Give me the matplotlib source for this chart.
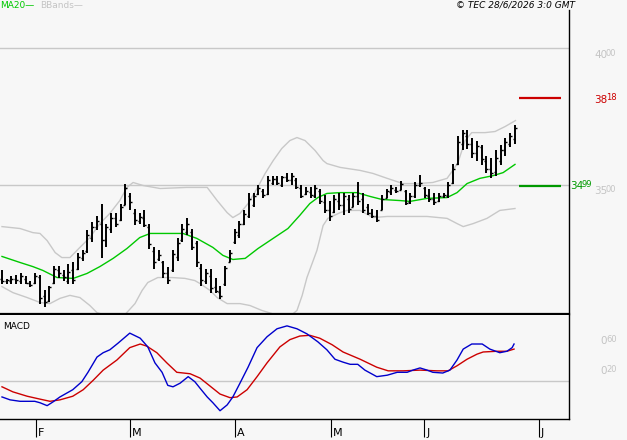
import matplotlib
matplotlib.use('Agg')
import matplotlib.pyplot as plt
import matplotlib.transforms as mtransforms

# daily bars (index 0 = first bar on the chart)
opens = [31.6, 31.5, 31.5, 31.6, 31.5, 31.6, 31.45, 31.45, 31.65, 30.95,
         30.8, 31.45, 31.9, 31.75, 31.5, 31.9, 31.95, 32.35, 32.6, 33.1,
         33.5, 33.6, 33.0, 33.4, 33.8, 33.75, 34.3, 34.6, 34.0, 33.7,
         33.8, 33.5, 32.6, 32.3, 32.2, 31.8, 31.9, 32.4, 33.0, 33.3,
         33.3, 32.9, 32.0, 31.5, 31.7, 31.3, 31.1, 31.4, 32.2, 32.95,
         33.2, 33.6, 33.9, 34.3, 34.7, 34.8, 34.7, 35.1, 35.25, 35.0,
         35.3, 35.2, 35.2, 34.9, 34.7, 34.75, 34.6, 34.8, 34.4, 34.1,
         34.05, 34.45, 34.3, 34.5, 34.2, 34.6, 34.5, 34.2, 34.0, 33.9,
         34.1, 34.55, 34.75, 34.85, 34.85, 34.8, 34.4, 34.6, 35.0, 34.9,
         34.6, 34.5, 34.45, 34.6, 34.6, 35.1, 35.8, 36.5, 36.8, 36.5,
         36.2, 36.4, 35.9, 35.6, 35.5, 35.9, 36.3, 36.5, 36.7]
highs = [31.93, 31.6, 31.68, 31.72, 31.79, 31.68, 31.53, 31.79, 31.72, 31.17,
         31.35, 32.05, 32.05, 31.9, 32.15, 32.19, 32.52, 32.63, 33.36, 33.65,
         33.87, 34.34, 33.61, 34.01, 33.98, 34.34, 35.04, 34.71, 34.16, 33.98,
         34.12, 33.61, 32.74, 32.63, 32.26, 32.01, 32.63, 33.07, 33.61, 33.8,
         33.43, 32.99, 32.15, 31.97, 31.97, 31.61, 31.35, 32.08, 32.63, 33.43,
         33.72, 34.09, 34.71, 34.74, 35.0, 34.89, 35.36, 35.36, 35.36, 35.36,
         35.47, 35.44, 35.29, 35.0, 34.93, 34.93, 35.0, 34.89, 34.64, 34.45,
         34.64, 34.74, 34.74, 34.64, 34.74, 35.11, 34.71, 34.34, 34.16, 34.12,
         34.64, 34.89, 35.0, 34.93, 35.18, 34.82, 34.74, 35.11, 35.4, 34.93,
         34.89, 34.71, 34.74, 34.74, 35.11, 35.8, 36.82, 37.04, 37.01, 36.72,
         36.64, 36.46, 36.09, 35.99, 36.28, 36.46, 36.72, 36.9, 37.19]
lows = [31.39, 31.42, 31.42, 31.42, 31.39, 31.39, 31.31, 31.42, 30.69, 30.55,
        30.73, 31.42, 31.64, 31.53, 31.42, 31.42, 31.9, 32.26, 32.55, 32.92,
        33.36, 32.37, 32.74, 33.28, 33.47, 33.72, 34.27, 34.09, 33.54, 33.61,
        33.47, 32.7, 31.97, 32.26, 31.64, 31.42, 31.83, 32.26, 32.92, 33.18,
        32.63, 32.04, 31.35, 31.42, 31.06, 31.06, 30.84, 31.35, 32.19, 32.88,
        33.1, 33.54, 33.83, 34.2, 34.64, 34.53, 34.64, 35.0, 35.0, 34.93,
        35.11, 35.0, 34.89, 34.53, 34.64, 34.56, 34.53, 34.34, 33.98, 33.72,
        34.01, 34.09, 33.91, 33.98, 34.2, 34.27, 33.98, 33.91, 33.8, 33.65,
        34.09, 34.53, 34.64, 34.71, 34.82, 34.27, 34.34, 34.56, 34.93, 34.56,
        34.38, 34.27, 34.38, 34.56, 34.56, 35.07, 35.73, 36.28, 36.35, 35.99,
        35.91, 35.73, 35.47, 35.26, 35.36, 35.73, 36.09, 36.42, 36.53]
closes = [31.5, 31.55, 31.6, 31.55, 31.7, 31.45, 31.38, 31.7, 30.9, 30.75,
          31.3, 31.95, 31.8, 31.65, 31.85, 31.55, 32.4, 32.55, 33.2, 33.5,
          33.7, 33.0, 33.5, 33.8, 33.6, 34.2, 34.9, 34.4, 33.75, 33.85,
          33.55, 32.85, 32.2, 32.45, 31.8, 31.55, 32.5, 32.9, 33.4, 33.6,
          32.75, 32.2, 31.55, 31.8, 31.25, 31.15, 30.95, 32.0, 32.55, 33.3,
          33.6, 33.95, 34.5, 34.6, 34.9, 34.65, 35.2, 35.25, 35.1, 35.3,
          35.2, 35.35, 34.95, 34.6, 34.8, 34.65, 34.9, 34.45, 34.1, 33.9,
          34.5, 34.3, 34.6, 34.15, 34.6, 34.45, 34.1, 34.0, 33.9, 33.75,
          34.5, 34.8, 34.9, 34.8, 35.05, 34.35, 34.6, 35.0, 35.1, 34.65,
          34.5, 34.4, 34.6, 34.65, 35.0, 35.6, 36.6, 36.9, 36.5, 36.2,
          36.45, 35.95, 35.6, 35.45, 36.0, 36.3, 36.6, 36.8, 37.1]

# MA20 and Bollinger bands (bar position, price)
ma_x = [0, 3.8, 6.5, 8.6, 11.6, 15, 17.9, 20.6, 23.4, 26.3, 29, 31.2, 33.3,
        38.1, 41, 44.4, 46.5, 48.6, 51.2, 53.9, 56.4, 60.2, 62.7, 64.8, 66.5,
        68.4, 71.2, 74.7, 77.5, 80, 83.8, 85.9, 89.5, 93.7, 95.8, 97.9, 100.6,
        103.4, 105.5, 108]
ma_y = [32.41, 32.19, 32.04, 31.9, 31.64, 31.61, 31.79, 32.04, 32.34, 32.7,
        33.1, 33.25, 33.25, 33.25, 33.07, 32.74, 32.45, 32.3, 32.34, 32.7,
        32.99, 33.43, 33.91, 34.34, 34.56, 34.71, 34.74, 34.74, 34.6, 34.49,
        34.45, 34.42, 34.53, 34.56, 34.74, 35.07, 35.26, 35.36, 35.47, 35.77]

bb_up_x = [0, 3.8, 6.5, 8, 9.5, 11.2, 12.6, 14.3, 16.4, 18.5, 20.6, 22.7,
           24.8, 26.3, 27.6, 29.7, 33.3, 38.9, 43.2, 45.3, 47.4, 48.6, 50.1,
           51.8, 53.7, 55.4, 57.1, 58.9, 60.6, 62.1, 63.8, 65.9, 67.6, 68.4,
           71.2, 75.4, 78.1, 81.1, 84.4, 87.4, 90.7, 93.7, 94.9, 96, 97.5,
           98.9, 101.7, 103.8, 105.9, 108.1]
bb_up_y = [33.5, 33.43, 33.28, 33.25, 32.99, 32.55, 32.37, 32.37, 32.74, 33.1,
           33.61, 33.98, 34.45, 34.93, 35.11, 35.0, 34.89, 34.93, 34.93, 34.45,
           34.01, 33.83, 33.98, 34.34, 34.89, 35.44, 35.91, 36.35, 36.64, 36.75,
           36.64, 36.28, 35.91, 35.8, 35.66, 35.55, 35.44, 35.26, 35.07, 35.07,
           35.11, 35.26, 35.55, 35.84, 36.64, 36.93, 36.93, 36.97, 37.15, 37.37]
bb_lo_x = [0, 2.3, 5.3, 8, 10.1, 12.2, 14.3, 16.4, 18.5, 20, 22.7, 25.9, 28,
           29.5, 30.7, 32.8, 35.8, 38.5, 40.6, 41.7, 43.8, 45.3, 47.4, 50.1,
           52.2, 54.7, 57.5, 60.6, 62.1, 63.2, 64.2, 66.3, 67.6, 68.6, 71.2,
           72.6, 75.4, 78.1, 81.1, 84.4, 89.5, 93.7, 95.8, 97.1, 99.2, 102.1,
           104.8, 108]
bb_lo_y = [31.31, 31.09, 30.91, 30.73, 30.69, 30.88, 30.99, 30.91, 30.62, 30.36,
           30.22, 30.29, 30.69, 31.17, 31.46, 31.64, 31.64, 31.61, 31.53, 31.42,
           31.17, 30.91, 30.69, 30.69, 30.62, 30.44, 30.29, 30.22, 30.44, 30.99,
           31.64, 32.63, 33.54, 33.8, 34.01, 34.09, 34.09, 33.83, 33.87, 33.87,
           33.87, 33.8, 33.61, 33.5, 33.61, 33.8, 34.09, 34.16]

# MACD (blue) and signal (red)
macd_x = [0, 1.7, 3.8, 6.9, 8, 9.5, 10.7, 12.2, 14.9, 16.8, 18.1, 20, 21.3,
          22.7, 24.4, 26.9, 29.1, 30.7, 32.2, 33.7, 34.9, 36, 37.5, 39.2, 40.6,
          41.7, 43.2, 44.4, 45.9, 47.4, 48.6, 50.1, 51.8, 53.7, 55.8, 57.9, 60,
          62.1, 64.2, 66.5, 68.4, 70.1, 71.8, 73.3, 74.9, 76.4, 78.9, 81.1,
          83.2, 85.3, 86.5, 88, 89.5, 90.7, 92.8, 94.3, 95.8, 97.1, 98.9,
          101.1, 102.7, 104.8, 106.3, 107.4, 107.8]
macd_y = [-0.22, -0.26, -0.28, -0.28, -0.3, -0.34, -0.29, -0.22, -0.12, -0.01,
          0.12, 0.33, 0.39, 0.43, 0.52, 0.66, 0.59, 0.47, 0.25, 0.12, -0.06,
          -0.08, -0.03, 0.06, -0.01, -0.1, -0.22, -0.3, -0.41, -0.33, -0.22,
          -0.03, 0.19, 0.46, 0.61, 0.72, 0.76, 0.72, 0.65, 0.54, 0.43, 0.3,
          0.26, 0.23, 0.23, 0.15, 0.06, 0.08, 0.12, 0.12, 0.15, 0.18, 0.15,
          0.12, 0.11, 0.15, 0.29, 0.44, 0.51, 0.51, 0.44, 0.39, 0.41, 0.46, 0.51]
sig_x = [0, 2.3, 5.3, 8, 10.1, 12.2, 14.9, 17.1, 19.2, 21.3, 24.2, 26.9, 29.1,
         30.5, 32.6, 34.7, 36.8, 39.6, 41.7, 43.8, 45.9, 48, 49.5, 51.6, 53.7,
         55.8, 58.5, 60.6, 62.7, 64.8, 66.9, 69.5, 71.8, 75.4, 78.9, 81.3,
         84.4, 88, 91.6, 93.9, 95.8, 97.9, 100, 101.3, 104.2, 106.3, 107.8]
sig_y = [-0.08, -0.15, -0.21, -0.25, -0.28, -0.26, -0.21, -0.12, 0.01, 0.15,
         0.29, 0.46, 0.51, 0.48, 0.39, 0.25, 0.12, 0.1, 0.04, -0.07, -0.18,
         -0.23, -0.22, -0.12, 0.06, 0.25, 0.47, 0.57, 0.62, 0.63, 0.59, 0.5,
         0.4, 0.3, 0.19, 0.14, 0.14, 0.15, 0.14, 0.14, 0.21, 0.3, 0.37, 0.4,
         0.41, 0.41, 0.44]

month_pos = [7.2, 26.9, 49.1, 69.2, 88.9, 113.0]
month_lbl = ['F', 'M', 'A', 'M', 'J', 'J']

resistance = 38.18
support = 34.99

bg = '#f7f7f7'
W, H = 627, 440

fig = plt.figure(figsize=(W / 100, H / 100), dpi=100, facecolor=bg)
ax = fig.add_axes([0, 126 / H, 569 / W, 304 / H], facecolor=bg)
ax2 = fig.add_axes([0, 21 / H, 569 / W, 104 / H], facecolor=bg)

idx = list(range(len(closes)))

# price panel
ax.axhline(40, color='#c8c8c8', lw=1)
ax.axhline(35, color='#c8c8c8', lw=1)
ax.plot(bb_up_x, bb_up_y, color='#c8c8c8', lw=1)
ax.plot(bb_lo_x, bb_lo_y, color='#c8c8c8', lw=1)
ax.plot(ma_x, ma_y, color='#00c800', lw=1)
ax.vlines(idx, lows, highs, color='black', lw=1.4)
ax.hlines(opens, [i - 0.42 for i in idx], idx, color='black', lw=1)
ax.hlines(closes, idx, [i + 0.42 for i in idx], color='black', lw=1)
ax.hlines(resistance, 108.8, 117.7, color='#cc0000', lw=1.6)
ax.hlines(support, 108.8, 117.7, color='#009900', lw=1.6)

ax.set_xlim(-0.42, 119.37)
ax.set_ylim(30.31, 41.405)
ax.set_xticks([])
ax.set_yticks([])
for s in ['top', 'left']:
    ax.spines[s].set_visible(False)
ax.spines['right'].set_linewidth(1)
ax.spines['bottom'].set_linewidth(1.6)

# MACD panel
ax2.axhline(0, color='#c8c8c8', lw=1)
ax2.plot(sig_x, sig_y, color='#cc0000', lw=1)
ax2.plot(macd_x, macd_y, color='#0000cc', lw=1)
ax2.set_xlim(-0.42, 119.37)
ax2.set_ylim(-0.524, 0.91)
ax2.set_yticks([])
ax2.set_xticks(month_pos)
ax2.tick_params(axis='x', direction='out', length=13, width=0.8,
                color='black', labelbottom=False)
for s in ['top', 'left']:
    ax2.spines[s].set_visible(False)
ax2.spines['right'].set_linewidth(1)
ax2.spines['bottom'].set_linewidth(1)

trans = mtransforms.blended_transform_factory(ax2.transData, ax2.transAxes)
for p, l in zip(month_pos, month_lbl):
    ax2.text(p + 0.45, -0.165, l, transform=trans, fontsize=8,
             ha='left', va='baseline', color='black')
ax2.text(3 / 569, 0.885, 'MACD', transform=ax2.transAxes, fontsize=6.5,
         ha='left', va='center', color='black')


def px_text(x, y, s, **kw):
    fig.text(x / W, 1 - y / H, s, **kw)


# right side labels (integer part + raised decimals)
gray = '#c4c4c4'
px_text(594, 55, '40', fontsize=7.5, color=gray, va='center')
px_text(606, 53, '00', fontsize=6, color=gray, va='center')
px_text(594, 100, '38', fontsize=7.5, color='#cc0000', va='center')
px_text(606, 98, '18', fontsize=6, color='#cc0000', va='center')
px_text(570, 186, '34', fontsize=7.5, color='#009900', va='center')
px_text(582, 184, '99', fontsize=6, color='#009900', va='center')
px_text(594, 191, '35', fontsize=7.5, color=gray, va='center')
px_text(606, 189, '00', fontsize=6, color=gray, va='center')
px_text(600, 341, '0', fontsize=7.5, color=gray, va='center')
px_text(606, 339, '60', fontsize=6, color=gray, va='center')
px_text(600, 371, '0', fontsize=7.5, color=gray, va='center')
px_text(606, 369, '20', fontsize=6, color=gray, va='center')

# header
px_text(0, 5, 'MA20\u2014', fontsize=6.5, color='#00c800', va='center')
px_text(40, 5, 'BBands\u2014', fontsize=6.5, color='#c4c4c4', va='center')
px_text(575, 5, '\u00a9 TEC 28/6/2026 3:0 GMT', fontsize=6.5, style='italic',
        color='black', ha='right', va='center')

fig.savefig('out.png', dpi=100, facecolor=bg)
plt.close(fig)
